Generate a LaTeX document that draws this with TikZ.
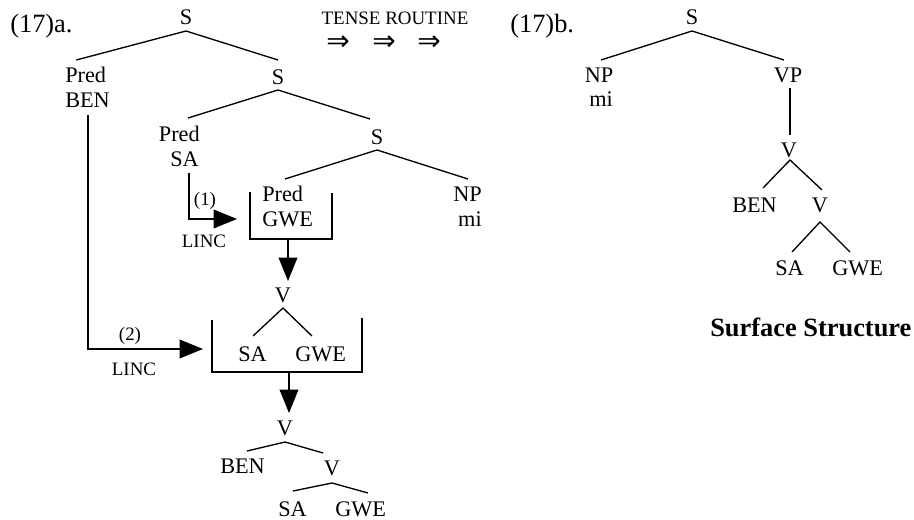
\documentclass[tikz,border=0pt]{standalone}
\usepackage{fontspec}
\setmainfont{Liberation Serif}
\newfontfamily\arrowfont{DejaVu Sans}
\usetikzlibrary{arrows.meta}
\tikzset{
  lab/.style={inner sep=0pt, font=\fontsize{16.7}{20}\selectfont},
  smalllab/.style={inner sep=0pt, font=\fontsize{14.2}{17}\selectfont},
  biglab/.style={inner sep=0pt, font=\fontsize{19.8}{24}\selectfont},
  dblarrow/.style={inner sep=0pt, font=\fontsize{21}{22}\arrowfont},
  branch/.style={line width=1pt},
  lincarrow/.style={line width=1pt, -{Triangle[length=17.5pt,width=14pt]}},
}
\begin{document}
\begin{tikzpicture}[x=0.75pt,y=-0.75pt]
\useasboundingbox (0,0) rectangle (914,520);
% ---------- (17)a ----------
\node[biglab, anchor=base west] (l17a) at (10,33) {(17)a.};
\node[lab, anchor=base] (Sa1) at (186,25) {S};
\node[lab, anchor=base west] (PBpred) at (65,83) {Pred};
\node[lab, anchor=base west] (PBben) at (65,108) {BEN};
\node[lab, anchor=base] (Sa2) at (278,85) {S};
\node[lab, anchor=base east] (PSpred) at (200,142) {Pred};
\node[lab, anchor=base east] (PSsa) at (199,167) {SA};
\node[lab, anchor=base] (Sa3) at (377,145) {S};
\node[lab, anchor=base west] (PGpred) at (262,202) {Pred};
\node[lab, anchor=base west] (PGgwe) at (262,227) {GWE};
\node[lab, anchor=base east] (NPa) at (482,202) {NP};
\node[lab, anchor=base east] (mia) at (482,227) {mi};
\node[lab, anchor=base] (Va1) at (283,303) {V};
\node[lab, anchor=base west] (SAa1) at (238,362) {SA};
\node[lab, anchor=base west] (GWEa1) at (295,362) {GWE};
\node[lab, anchor=base] (Va2) at (285,435) {V};
\node[lab, anchor=base west] (BENa) at (220,473) {BEN};
\node[lab, anchor=base] (Va3) at (332,475) {V};
\node[lab, anchor=base west] (SAa2) at (278,516) {SA};
\node[lab, anchor=base west] (GWEa2) at (335,516) {GWE};
% small labels
\node[smalllab] (n1) at (205,201) {(1)};
\node[smalllab, anchor=base] (linc1) at (204,248) {LINC};
\node[smalllab] (n2) at (130,336) {(2)};
\node[smalllab, anchor=base] (linc2) at (134,375) {LINC};
\node[smalllab, anchor=base] (tense) at (395,25) {TENSE ROUTINE};
\node[dblarrow] (ar1) at (338,43) {⇒};
\node[dblarrow] (ar2) at (384,43) {⇒};
\node[dblarrow] (ar3) at (429,43) {⇒};
% tree branches
\draw[branch] ([shift={(-30,-23)}]PBpred.base east) -- ([shift={(0,6)}]Sa1.base) -- ([shift={(0,-25)}]Sa2.base);
\draw[branch] ([shift={(-12,-24)}]PSpred.base east) -- ([shift={(0,5)}]Sa2.base) -- ([shift={(-7,-26)}]Sa3.base);
\draw[branch] ([shift={(23,-23)}]PGpred.base west) -- ([shift={(0,5)}]Sa3.base) -- ([shift={(-14,-23)}]NPa.base east);
\draw[branch] ([shift={(15,-26)}]SAa1.base west) -- ([shift={(0,5)}]Va1.base) -- ([shift={(17,-26)}]GWEa1.base west);
\draw[branch] ([shift={(27,-22)}]BENa.base west) -- ([shift={(0,7)}]Va2.base) -- ([shift={(-9,-22)}]Va3.base);
\draw[branch] ([shift={(15,-25)}]SAa2.base west) -- ([shift={(0,8)}]Va3.base) -- ([shift={(33,-23)}]GWEa2.base west);
% boxes
\coordinate (B1tl) at (250,192);
\coordinate (B1bl) at (250,239);
\coordinate (B1br) at (332,239);
\coordinate (B1tr) at (332,193);
\coordinate (B1out) at (288,239);
\coordinate (B2tl) at (212,320);
\coordinate (B2bl) at (212,372);
\coordinate (B2br) at (362,372);
\coordinate (B2tr) at (362,318);
\coordinate (B2out) at (289,372);
\draw[branch] (B1tl) -- (B1bl) -- (B1br) -- (B1tr);
\draw[branch] (B2tl) -- (B2bl) -- (B2br) -- (B2tr);
\coordinate (tip1) at (237,219);
\coordinate (tip2) at (203,349);
\draw[lincarrow] ([shift={(-10,6)}]PSsa.base east) |- (tip1);
\draw[lincarrow] ([shift={(23,7)}]PBben.base west) |- (tip2);
\draw[lincarrow] (B1out) -- ([shift={(5,-22)}]Va1.base);
\draw[lincarrow] (B2out) -- ([shift={(4,-22)}]Va2.base);
% ---------- (17)b ----------
\node[biglab, anchor=base west] (l17b) at (510,33) {(17)b.};
\node[lab, anchor=base] (Sb) at (692,25) {S};
\node[lab, anchor=base] (NPb) at (599,83) {NP};
\node[lab, anchor=base] (mib) at (601,107) {mi};
\node[lab, anchor=base] (VPb) at (788,83) {VP};
\node[lab, anchor=base] (Vb1) at (789,158) {V};
\node[lab, anchor=base west] (BENb) at (732,213) {BEN};
\node[lab, anchor=base] (Vb2) at (820,213) {V};
\node[lab, anchor=base west] (SAb) at (775,276) {SA};
\node[lab, anchor=base west] (GWEb) at (832,276) {GWE};
\node[biglab, anchor=base west, font=\fontsize{19.8}{24}\selectfont\bfseries] (surf) at (710,337) {Surface Structure};
\draw[branch] ([shift={(2,-23)}]NPb.base) -- ([shift={(0,6)}]Sb.base) -- ([shift={(-4,-23)}]VPb.base);
\draw[branch] ([shift={(2,5)}]VPb.base) -- ([shift={(1,-23)}]Vb1.base);
\draw[branch] ([shift={(31,-25)}]BENb.base west) -- ([shift={(1,2)}]Vb1.base) -- ([shift={(2,-23)}]Vb2.base);
\draw[branch] ([shift={(17,-24)}]SAb.base west) -- ([shift={(0,9)}]Vb2.base) -- ([shift={(18,-24)}]GWEb.base west);
\end{tikzpicture}
\end{document}
